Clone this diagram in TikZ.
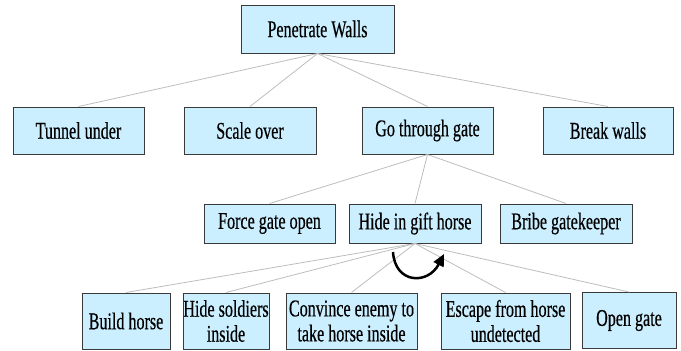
\documentclass[tikz,border=0pt]{standalone}
\usepackage{fontspec}
\newfontfamily\lblfont{Liberation Serif}[FakeStretch=0.67,FakeBold=0.4]
\usetikzlibrary{arrows.meta}
\definecolor{boxfill}{HTML}{CCEFFF}
\definecolor{boxline}{HTML}{3A3A3A}
\definecolor{edgegray}{HTML}{BDBDBD}
\tikzset{
  box/.style={draw=boxline, line width=1pt, fill=boxfill, inner sep=0pt, align=center,
    font=\lblfont\fontsize{24}{25}\selectfont},
  tall/.style={box, minimum height=47pt},
  mid/.style={box, minimum height=39pt},
  low/.style={box, minimum height=56pt},
  edge/.style={draw=edgegray, line width=0.8pt},
  turn/.style={line width=2.5pt, -{Triangle[length=12pt,width=11pt]}}
}
\begin{document}
\begin{tikzpicture}[x=1pt,y=1pt]
\useasboundingbox (0,0) rectangle (681,-351);
\node[tall, minimum width=153pt, minimum height=48pt] (pw) at (317.5,-29) {Penetrate Walls};
\node[tall, minimum width=131pt] (tu) at (78.5,-130.5) {Tunnel under};
\node[tall, minimum width=132pt] (so) at (250,-130.5) {Scale over};
\node[tall, minimum width=131pt] (gt) at (427.5,-130.5) {Go through gate};
\node[tall, minimum width=130pt] (bw) at (608,-130.5) {Break walls};
\node[mid, minimum width=131pt] (fg) at (269.5,-223.5) {Force gate open};
\node[mid, minimum width=132pt] (hg) at (415,-223.5) {Hide in gift horse};
\node[mid, minimum width=132pt] (bg) at (566,-223.5) {Bribe gatekeeper};
\node[low, minimum width=88pt] (bh) at (126,-321) {Build horse};
\node[low, minimum width=86pt] (hs) at (226,-321) {Hide soldiers\\inside};
\node[low, minimum width=131pt] (ce) at (351.5,-321) {Convince enemy to\\take horse inside};
\node[low, minimum width=129pt] (ef) at (505.5,-321) {Escape from horse\\undetected};
\node[low, minimum width=94pt] (og) at (629,-320.5) {Open gate};
\foreach \c in {tu,so,gt,bw} \draw[edge] (pw.south) -- (\c.north);
\foreach \c in {fg,hg,bg} \draw[edge] (gt.south) -- (\c.north);
\foreach \c in {bh,hs,ce,ef,og} \draw[edge] (hg.south) -- (\c.north);
\coordinate (ta) at (393,-252);
\coordinate (tb) at (444,-254);
\draw[turn] (ta) .. controls (395,-284) and (428,-285) .. (tb);
\end{tikzpicture}
\end{document}
